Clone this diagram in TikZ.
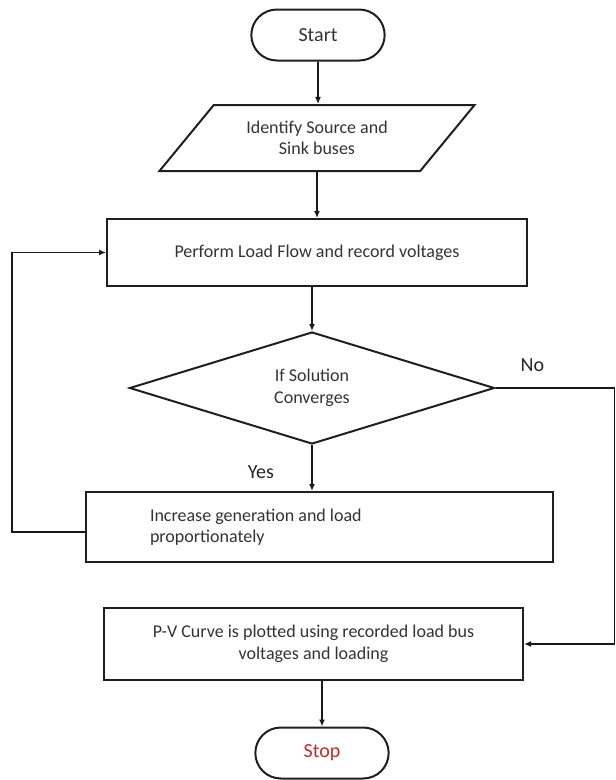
\documentclass[tikz,border=0pt]{standalone}
\usepackage{fontspec}
\setmainfont{Carlito}
\usetikzlibrary{shapes.geometric,shapes.misc,arrows.meta}
\definecolor{textgray}{HTML}{333333}
\definecolor{stopred}{HTML}{C62A2A}

\begin{document}
\begin{tikzpicture}[
        x=1pt, y=-1pt,
        font=\fontsize{18}{21.5}\selectfont,
        outline/.style={draw=black!88, line width=2pt, text=textgray},
        terminal/.style={outline, rounded rectangle, minimum width=140pt, minimum height=51pt, font=\fontsize{20}{24}\selectfont},
        iobox/.style={outline, trapezium, trapezium left angle=46.3, trapezium right angle=133.7, trapezium stretches=true, align=center},
        process/.style={outline, rectangle, inner sep=0pt, align=center},
        decision/.style={outline, diamond, aspect=3.26, inner sep=0pt, align=center},
        flow/.style={line width=1.6pt, draw=black!90, -{Latex[length=7pt,width=6pt]}},
        branch/.style={font=\fontsize{20}{24}\selectfont, text=black!85},
    ]
    \useasboundingbox (0, 0) rectangle (616, 780);

    \node[terminal] (start) at (318, 35) {Start};
    \node[iobox, minimum width=316pt, minimum height=66pt] (ident) at (317, 138) {Identify Source and\\Sink buses};
    \node[process, minimum width=420pt, minimum height=67pt] (load) at (317, 252.5) {Perform Load Flow and record voltages};
    \node[decision, minimum width=365pt, minimum height=112pt] (conv) at (312, 388) {If Solution\\Converges};
    \node[process, text width=339pt, inner xsep=64pt, align=flush left, minimum height=70pt] (incr) at (319.5, 527) {Increase generation and load\\proportionately};
    \node[process, minimum width=419pt, minimum height=72pt] (pv) at (313.5, 644) {P-V Curve is plotted using recorded load bus\\voltages and loading};
    \node[terminal, text=stopred] (stop) at (322, 753) {Stop};

    \coordinate (loop) at (12, 532);
    \coordinate (noturn) at (614.5, 388);

    \draw[flow] (start) -- (start |- ident.north);
    \draw[flow] (ident) -- (load);
    \draw[flow] (conv.north |- load.south) -- (conv);
    \draw[flow] (conv) -- (conv.south |- incr.north) node[pos=0.58, left=34pt, branch] {Yes};
    \draw[flow] (incr.west |- loop) -- (loop) |- (load.west);
    \draw[flow] (conv.east) -- (noturn) node[pos=0.31, above=12pt, branch] {No} |- (pv.east);
    \draw[flow] (stop.north |- pv.south) -- (stop);
\end{tikzpicture}
\end{document}
